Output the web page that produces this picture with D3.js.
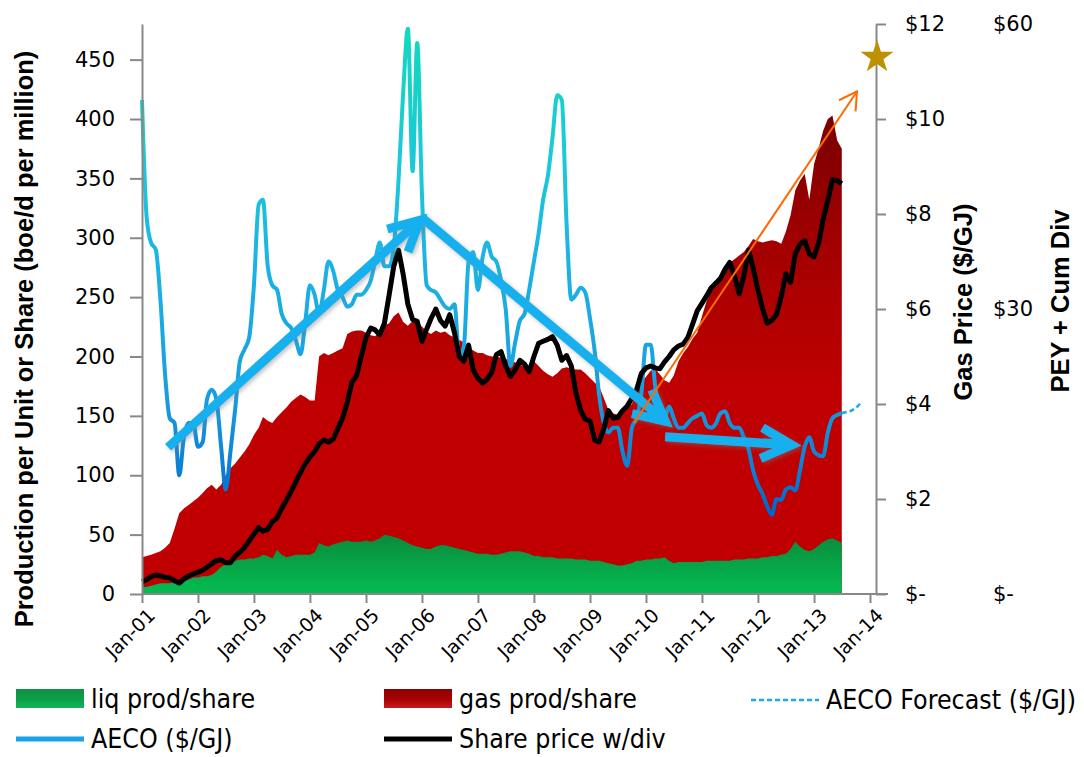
<!DOCTYPE html>
<html>
<head>
<meta charset="utf-8">
<script src="https://cdn.jsdelivr.net/npm/d3@7"></script>
<style>
body{margin:0;background:#fff;}
svg{display:block;}
</style>
</head>
<body>
<div id="chart"></div>
<script>
// monthly values, Jan-01 .. Jul-13
var startYear = 2001;
var liqProd = [
	6,6,7,8,9,9,9,10,10,11,12,14,
	14,15,15,16,19,23,25,27,28,29,29,30,
	30,31,33,32,30,37,33,31,32,33,33,33,
	33,35,43,41,40,42,43,44,45,44,44,44,
	45,44,45,47,50,49,48,47,45,43,41,40,
	39,38,38,40,41,41,40,39,38,37,36,35,
	34,34,34,33,33,34,35,36,36,36,35,34,
	32,32,31,31,31,30,30,30,30,29,29,29,
	28,28,28,27,26,25,24,24,25,26,28,28,
	29,29,30,30,31,28,26,27,27,27,27,27,
	27,28,28,28,28,28,28,29,29,29,30,30,
	30,31,31,32,32,33,34,38,44,40,37,36,
	38,41,44,46,47,45,43
];
var gasProd = [
	25,26,26,26.5,27,30,34,45,58,61,63,64,
	67,70,74,76,69,69,75,79,82,86,91,96,
	104,109,116,114,114,112,120,126,130,132,135,133,
	130,128,157,162,161,161,162,163,174,177,178,178,
	175,174,172,174,176,179,186,190,184,183,189,190,
	186,183,181,182,179,180,178,177,176,175,172,170,
	169,169,167,167,167,165,163,161,159,157,157,157,
	164,160,157,154,152,156,160,161,160,160,160,157,
	154,150,147,138,129,127,127,130,132,134,142,150,
	154,159,160,155,149,150,158,169,176,181,188,193,
	207,219,227,235,240,246,251,253,256,259,263,269,
	267,265,266,266,265,262,271,281,296,308,317,296,
	324,335,346,354,356,337,332
];
var aeco = [
	10.4,7.9,7.4,7.25,6.2,4.6,3.7,3.6,2.5,3.3,3.6,3.6,
	3.1,3.2,4.1,4.3,4.1,3.1,2.2,3.0,3.9,4.9,5.15,5.4,
	6.5,8.2,8.3,6.9,6.5,6.4,5.9,5.7,5.6,5.35,5.05,5.7,
	6.5,6.3,5.9,6.4,7.0,6.8,6.4,6.25,6.05,6.1,6.3,6.3,
	6.4,6.6,7.0,7.4,6.9,6.9,7.3,8.7,10.6,11.9,8.9,11.6,
	8.4,6.5,6.4,6.35,6.2,6.05,6.0,6.1,5.0,5.2,7.0,7.2,
	6.4,7.1,7.4,7.1,7.0,6.6,6.0,4.8,5.3,5.75,5.9,6.4,
	7.0,7.6,8.3,8.8,9.6,10.5,10.4,7.8,6.2,6.3,6.45,6.35,
	5.8,5.1,4.2,3.6,3.4,3.5,3.5,3.0,2.7,3.5,3.7,4.2,
	5.25,5.25,4.4,3.8,3.7,3.95,3.7,3.5,3.5,3.6,3.7,3.75,
	3.8,3.55,3.5,3.58,3.8,3.85,3.6,3.5,3.5,3.3,3.05,2.6,
	2.3,2.1,1.85,1.67,2.0,1.98,2.2,2.25,2.18,2.6,3.1,3.3,
	3.0,2.92,2.9,3.4,3.7,3.77,3.81
];
// forecast starts at the last AECO month (Jul-13)
var aecoForecast = [3.81,3.83,3.86,3.92,4.02];
var sharePrice = [
	1.3,1.5,1.8,2.0,1.9,1.75,1.7,1.4,1.15,1.6,1.9,2.1,
	2.3,2.5,2.8,3.2,3.5,3.6,3.3,3.3,4.0,4.4,4.9,5.6,
	6.3,7.0,6.6,6.8,7.6,8.0,9.0,9.9,10.8,11.8,12.8,13.7,
	14.4,15.0,15.8,16.2,16.0,16.3,17.4,18.5,20.2,22.3,23.0,25.0,
	27.0,28.0,27.8,27.3,28.5,31.5,34.5,36.2,33.6,30.5,28.9,28.7,
	26.6,27.9,29.0,30.0,28.8,28.2,29.4,27.5,25.0,24.5,26.2,23.6,
	22.7,22.2,22.6,23.3,25.2,25.5,24.0,22.9,23.6,24.6,24.2,23.4,
	25.0,26.4,26.6,26.8,27.1,26.2,24.6,25.1,24.0,21.2,19.3,18.4,
	18.2,16.2,16.0,17.4,19.3,18.5,18.6,19.3,19.8,20.6,21.5,23.2,
	23.8,24.0,23.8,23.7,24.4,25.0,25.7,26.1,26.3,27.0,28.4,29.8,
	30.6,31.4,32.2,32.7,33.2,34.2,34.9,33.5,31.6,33.5,36.2,34.3,
	32.0,30.0,28.5,28.8,29.4,31.3,33.7,32.8,35.8,36.8,37.2,35.8,
	35.5,37.0,39.4,41.4,43.6,43.5,43.2
];
var yearLabels = ['Jan-01','Jan-02','Jan-03','Jan-04','Jan-05','Jan-06','Jan-07',
	'Jan-08','Jan-09','Jan-10','Jan-11','Jan-12','Jan-13','Jan-14'];
var prodTicks = [0,50,100,150,200,250,300,350,400,450];
var gasTicks = [0,2,4,6,8,10,12];
var priceTicks = [0,30,60];
// hand drawn trend arrows: [month index, value]
var gasArrows = [
	{from:[5.6,3.09], to:[59.6,7.87]},
	{from:[60,7.92], to:[112.1,3.64]},
	{from:[112.1,3.31], to:[139.2,3.14]}
];
var priceArrow = {from:[105.4,18.0], to:[153.2,52.9]};
var priceStar = [157.5,56.5];

var width = 1084, height = 757;
var plotLeft = 142, plotTop = 24, plotBottom = 594;
var rightAxisX = 876;

var svg = d3.select('#chart').append('svg')
	.attr('width',width)
	.attr('height',height)
	.style('font-family','"DejaVu Sans", Verdana, sans-serif');

function monthDate(m){ return new Date(startYear, 0, 1 + m*30.44); }
var months = liqProd.map(function(d,i){ return new Date(startYear, i, 1); });

var x = d3.scaleTime().domain([new Date(2001,0,1), new Date(2014,0,1)]).range([plotLeft,870]);
var yProd = d3.scaleLinear().domain([0,480]).range([plotBottom,plotTop]);
var yGas = d3.scaleLinear().domain([0,12]).range([plotBottom,plotTop]);
var yPrice = d3.scaleLinear().domain([0,60]).range([plotBottom,plotTop]);

var defs = svg.append('defs');
function vGrad(id, y1, y2, stops){
	var g = defs.append('linearGradient').attr('id',id)
		.attr('gradientUnits','userSpaceOnUse')
		.attr('x1',0).attr('x2',0).attr('y1',y1).attr('y2',y2);
	stops.forEach(function(s){ g.append('stop').attr('offset',s[0]).attr('stop-color',s[1]); });
}
vGrad('gasFill', yProd(400), yProd(170), [[0,'#7a0000'],[0.45,'#a20000'],[1,'#c00000']]);
vGrad('liqFill', yProd(50), yProd(5), [[0,'#0a8a3c'],[1,'#05b850']]);
vGrad('aecoStroke', yGas(12), yGas(1.6), [[0,'#10d9bf'],[0.3,'#1cc8d8'],[0.45,'#1cb6e4'],[0.75,'#179ee0'],[0.9,'#0c80d6'],[1,'#0062c8']]);
vGrad('legGreen', 689, 709, [[0,'#0f8f40'],[0.5,'#0aa048'],[1,'#13b85a']]);
vGrad('legRed', 689, 709, [[0,'#8c0000'],[0.5,'#a80000'],[1,'#c82020']]);
var sh = defs.append('filter').attr('id','shadow').attr('x','-20%').attr('y','-20%').attr('width','140%').attr('height','140%');
sh.append('feDropShadow').attr('dx',2).attr('dy',2).attr('stdDeviation',2)
	.attr('flood-color','#777').attr('flood-opacity',0.45);

// production areas
var stackData = months.map(function(d,i){ return {liq:liqProd[i], gas:gasProd[i]}; });
var stacked = d3.stack().keys(['liq','gas'])(stackData);

svg.append('path')
	.datum(stacked[1])
	.attr('fill','url(#gasFill)')
	.attr('d', d3.area()
		.x(function(d,i){ return x(months[i]); })
		.y0(plotBottom)
		.y1(function(d){ return yProd(d[1]); }));

svg.append('path')
	.datum(stacked[0])
	.attr('fill','url(#liqFill)')
	.attr('d', d3.area()
		.x(function(d,i){ return x(months[i]); })
		.y0(function(d){ return yProd(d[0]); })
		.y1(function(d){ return yProd(d[1]); }));

// gas price
svg.append('path')
	.datum(aeco)
	.attr('fill','none')
	.attr('stroke','url(#aecoStroke)')
	.attr('stroke-width',4)
	.attr('stroke-linejoin','round')
	.attr('d', d3.line()
		.curve(d3.curveMonotoneX)
		.x(function(d,i){ return x(months[i]); })
		.y(function(d){ return yGas(d); }));

var lastMonth = aeco.length - 1;
svg.append('path')
	.datum(aecoForecast)
	.attr('fill','none')
	.attr('stroke','#1aa8ec')
	.attr('stroke-width',2.5)
	.attr('stroke-dasharray','5,3')
	.attr('d', d3.line()
		.curve(d3.curveMonotoneX)
		.x(function(d,i){ return x(new Date(startYear, lastMonth + i, 1)); })
		.y(function(d){ return yGas(d); }));

// share price
svg.append('path')
	.datum(sharePrice)
	.attr('fill','none')
	.attr('stroke','#000')
	.attr('stroke-width',5)
	.attr('stroke-linejoin','round')
	.attr('d', d3.line()
		.x(function(d,i){ return x(months[i]); })
		.y(function(d){ return yPrice(d); }));

// annotations
function head(x1,y1,x2,y2,len,ang){
	var a = Math.atan2(y1-y2, x1-x2), r = ang*Math.PI/180;
	return 'M'+(x2+len*Math.cos(a+r))+','+(y2+len*Math.sin(a+r))+
		'L'+x2+','+y2+
		'L'+(x2+len*Math.cos(a-r))+','+(y2+len*Math.sin(a-r));
}
var arrowG = svg.append('g').attr('filter','url(#shadow)');
gasArrows.forEach(function(a){
	var x1 = x(monthDate(a.from[0])), y1 = yGas(a.from[1]);
	var x2 = x(monthDate(a.to[0])), y2 = yGas(a.to[1]);
	arrowG.append('line')
		.attr('x1',x1).attr('y1',y1).attr('x2',x2).attr('y2',y2)
		.attr('stroke','#19b0ef').attr('stroke-width',9);
	arrowG.append('path')
		.attr('d',head(x1,y1,x2,y2,34,27))
		.attr('fill','none').attr('stroke','#19b0ef').attr('stroke-width',9)
		.attr('stroke-linejoin','miter');
});

(function(){
	var x1 = x(monthDate(priceArrow.from[0])), y1 = yPrice(priceArrow.from[1]);
	var x2 = x(monthDate(priceArrow.to[0])), y2 = yPrice(priceArrow.to[1]);
	svg.append('line')
		.attr('x1',x1).attr('y1',y1).attr('x2',x2).attr('y2',y2)
		.attr('stroke','#ff6a00').attr('stroke-width',2);
	svg.append('path')
		.attr('d',head(x1,y1,x2,y2,20,30))
		.attr('fill','none').attr('stroke','#ff6a00').attr('stroke-width',2);
})();

// axes
var axisColor = '#888';
var gl = svg.append('g')
	.attr('transform','translate('+plotLeft+',0)')
	.call(d3.axisLeft(yProd).tickValues(prodTicks).tickSize(12).tickSizeOuter(0).tickPadding(15));
var gr = svg.append('g')
	.attr('transform','translate('+rightAxisX+',0)')
	.call(d3.axisRight(yGas).tickValues(gasTicks).tickSize(10).tickSizeOuter(0).tickPadding(19)
		.tickFormat(function(d){ return d===0 ? '$-' : '$'+d; }));
var gp = svg.append('g')
	.attr('transform','translate(993,0)')
	.call(d3.axisRight(yPrice).tickValues(priceTicks).tickSize(0).tickPadding(0)
		.tickFormat(function(d){ return d===0 ? '$-' : '$'+d; }));
gp.select('.domain').remove();

var gx = svg.append('g')
	.attr('transform','translate(0,'+plotBottom+')')
	.call(d3.axisBottom(x).tickValues(yearLabels.map(function(d,i){ return new Date(2001+i,0,1); }))
		.tickSize(9).tickSizeOuter(0)
		.tickFormat(function(d,i){ return yearLabels[i]; }));
gx.select('.domain').remove();
gx.append('line').attr('x1',plotLeft).attr('x2',888).attr('y1',0).attr('y2',0)
	.attr('stroke',axisColor).attr('stroke-width',2);
gx.selectAll('text')
	.attr('x',0).attr('y',0).attr('dy','0.35em')
	.attr('text-anchor','end')
	.attr('transform','translate(9,18) rotate(-45)')
	.style('font-size','19px');

[gl,gr,gp,gx].forEach(function(g){
	g.attr('font-family',null).attr('font-size',null);
	g.selectAll('.domain').attr('stroke',axisColor).attr('stroke-width',2);
	g.selectAll('.tick line').attr('stroke',axisColor).attr('stroke-width',2);
	g.selectAll('.tick text').attr('fill','#000');
});
[gl,gr,gp].forEach(function(g){ g.selectAll('.tick text').style('font-size','21px'); });

svg.append('path')
	.attr('transform','translate('+x(monthDate(priceStar[0]))+','+yPrice(priceStar[1])+')')
	.attr('d', d3.symbol().type(d3.symbolStar).size(340)())
	.attr('fill','#bf9000');

// axis titles
function vTitle(txt, cx, cy){
	svg.append('text')
		.attr('transform','translate('+cx+','+cy+') rotate(-90)')
		.attr('text-anchor','middle')
		.attr('dy','0.35em')
		.style('font-family','"Liberation Sans", Arial, sans-serif')
		.style('font-weight','bold')
		.style('font-size','25.5px')
		.text(txt);
}
vTitle('Production per Unit or Share (boe/d per million)', 24, 339);
vTitle('Gas Price ($/GJ)', 963, 302);
vTitle('PEY + Cum Div', 1060, 301);

// legend
var legendItems = [
	{name:'liq prod/share', kind:'rect', fill:'url(#legGreen)', x:16, y:699},
	{name:'gas prod/share', kind:'rect', fill:'url(#legRed)', x:384, y:699},
	{name:'AECO Forecast ($/GJ)', kind:'dash', stroke:'#1aa8ec', x:751, y:700},
	{name:'AECO ($/GJ)', kind:'line', stroke:'#1aa3e6', x:16, y:739},
	{name:'Share price w/div', kind:'line', stroke:'#000', x:384, y:739}
];
var lg = svg.append('g');
legendItems.forEach(function(it){
	if(it.kind==='rect'){
		lg.append('rect').attr('x',it.x).attr('y',it.y-10).attr('width',68).attr('height',19)
			.attr('fill',it.fill);
	} else {
		lg.append('line').attr('x1',it.x).attr('x2',it.x+68).attr('y1',it.y).attr('y2',it.y)
			.attr('stroke',it.stroke)
			.attr('stroke-width',it.kind==='dash'?2.5:5)
			.attr('stroke-dasharray',it.kind==='dash'?'5,3':null);
	}
	lg.append('text')
		.attr('x',it.x+75).attr('y',it.y)
		.attr('dy','0.35em')
		.style('font-family','"DejaVu Sans Condensed", "DejaVu Sans", sans-serif')
		.style('font-stretch','condensed')
		.style('font-size','26.5px')
		.text(it.name);
});
</script>
</body>
</html>
